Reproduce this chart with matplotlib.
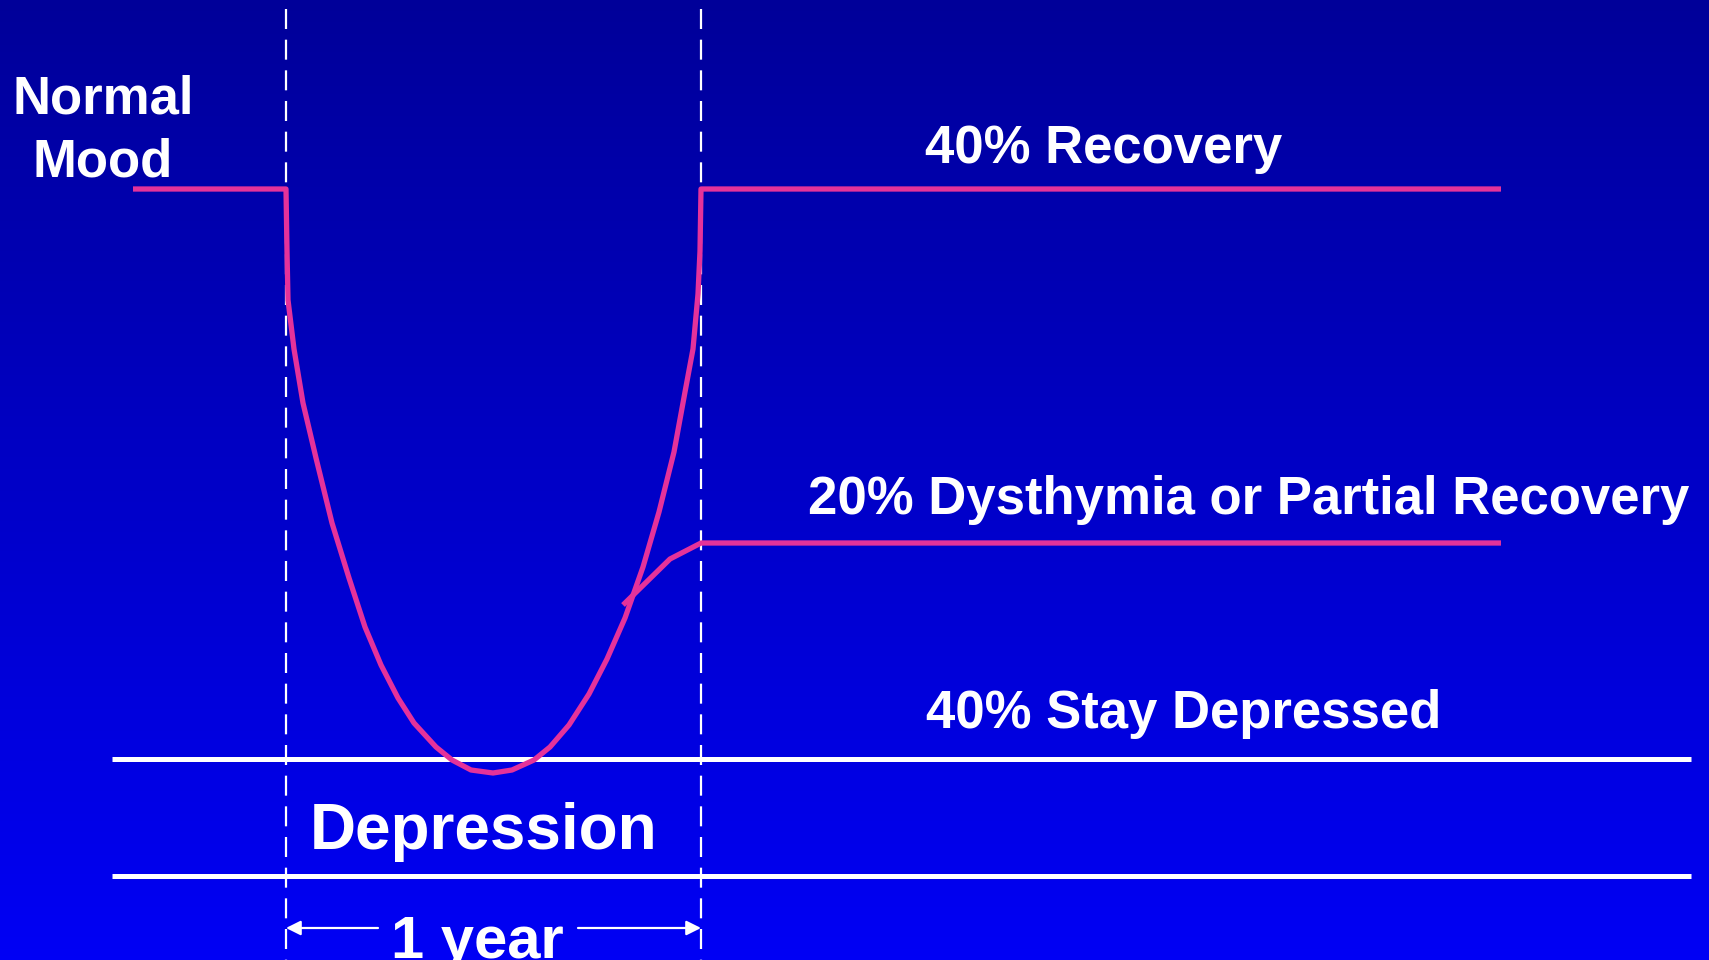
import numpy as np
import matplotlib
matplotlib.use("Agg")
import matplotlib.pyplot as plt

plt.rcParams['font.family'] = ['Liberation Sans', 'DejaVu Sans']

W, H = 1709, 960

# Mood course of a depressive episode (horizontal = time, vertical = mood, screen units)
episode_x = [133, 286, 287, 288, 294, 303, 316, 332, 349, 365, 381, 398, 414, 436, 452,
             471, 493, 512, 534, 550, 569, 589, 607, 625, 643, 659, 674, 685, 693, 698,
             700, 701, 1501]
episode_y = [189, 189, 251, 300, 349, 403, 458, 523, 578, 627, 665, 698, 723, 747, 760,
             770, 773, 770, 760, 747, 725, 694, 659, 618, 567, 512, 452, 392, 349, 294,
             251, 189, 189]

# Partial-recovery branch
partial_x = [623, 670, 701, 1501]
partial_y = [605, 559, 543, 543]

# Band bounding the depressed state
band_y = [759, 876]
band_x = [112, 1691]

# Episode onset / end (one year apart)
onset_x, end_x = 286, 701

labels = {
    "normal": "Normal\nMood",
    "recovery": "40% Recovery",
    "partial": "20% Dysthymia or Partial Recovery",
    "stay": "40% Stay Depressed",
    "depression": "Depression",
    "year": "1 year",
}

fig = plt.figure(figsize=(W / 100, H / 100), dpi=100)
ax = fig.add_axes([0, 0, 1, 1])
ax.set_xlim(0, W)
ax.set_ylim(H, 0)
ax.axis('off')

# Vertical blue gradient background
grad = np.linspace(0, 1, 256)[:, None]
top = np.array([0, 0, 153]) / 255
bot = np.array([0, 0, 245]) / 255
img = top[None, None, :] * (1 - grad[:, :, None]) + bot[None, None, :] * grad[:, :, None]
ax.imshow(img, extent=[0, W, H, 0], aspect='auto', zorder=0)

white = 'white'
pink = '#E5329A'

# Dashed markers for onset and end
for xv in (onset_x, end_x):
    ax.plot([xv, xv], [9, H], color=white, lw=1.6, dashes=(9, 4.8), zorder=2)

# Depression band
for yv in band_y:
    ax.plot(band_x, [yv, yv], color=white, lw=3.6, solid_capstyle='butt', zorder=3)

# Mood curves
ax.plot(episode_x, episode_y, color=pink, lw=3.8, solid_joinstyle='round',
        solid_capstyle='butt', zorder=4)
ax.plot(partial_x, partial_y, color=pink, lw=3.8, solid_joinstyle='round',
        solid_capstyle='butt', zorder=4)

# Text
ax.text(103, 131, labels["normal"], color=white, fontsize=38, fontweight='bold',
        ha='center', va='center', linespacing=1.32, zorder=5)
ax.text(1104, 149, labels["recovery"], color=white, fontsize=38, fontweight='bold',
        ha='center', va='center', zorder=5)
ax.text(1249, 500, labels["partial"], color=white, fontsize=38, fontweight='bold',
        ha='center', va='center', zorder=5)
ax.text(1184, 714, labels["stay"], color=white, fontsize=38, fontweight='bold',
        ha='center', va='center', zorder=5)
ax.text(484, 832, labels["depression"], color=white, fontsize=46, fontweight='bold',
        ha='center', va='center', zorder=5)
ax.text(477, 958, labels["year"], color=white, fontsize=43, fontweight='bold',
        ha='center', va='baseline', zorder=5)

# One-year span arrows
arrow_y = 928
ax.annotate('', xy=(onset_x, arrow_y), xytext=(378, arrow_y),
            arrowprops=dict(arrowstyle='-|>', color=white, lw=1.6,
                            mutation_scale=22, shrinkA=0, shrinkB=0), zorder=5)
ax.annotate('', xy=(end_x, arrow_y), xytext=(578, arrow_y),
            arrowprops=dict(arrowstyle='-|>', color=white, lw=1.6,
                            mutation_scale=22, shrinkA=0, shrinkB=0), zorder=5)

fig.savefig('out.png', dpi=100)
